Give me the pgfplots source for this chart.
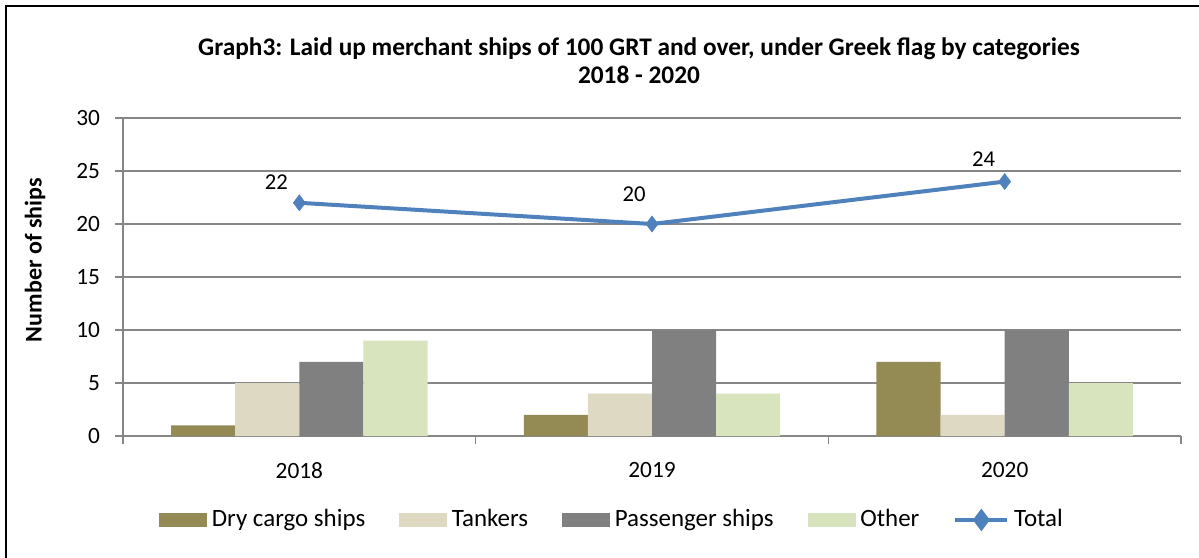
\documentclass[border=0pt]{standalone}
\usepackage{pgfplots}
\pgfplotsset{compat=1.18}
\usepackage{pgfplotstable}
\usepackage{fontspec}
\setmainfont{Carlito}
\definecolor{drycol}{HTML}{948A54}
\definecolor{tankcol}{HTML}{DDD9C3}
\definecolor{passcol}{HTML}{808080}
\definecolor{othcol}{HTML}{D7E4BD}
\definecolor{linecol}{HTML}{4F81BD}
\definecolor{gridcol}{HTML}{868686}

\pgfplotstableread{
x dry tank pass oth
0 1 5 7 9
1 2 4 10 4
2 7 2 10 5
}\bartable

\pgfplotstableread{
x y dx dy
0 22 -17.25 15.4
1 20 -13.5 22.5
2 24 -15.75 16.5
}\totaltable

\begin{document}
\fontsize{17.5}{21}\selectfont
\begin{tikzpicture}
\useasboundingbox (-92.25pt,-90.75pt) rectangle (807pt,327pt);
\draw[line width=1.5pt] (-87.75pt,-95pt) -- (-87.75pt,322.5pt) -- (812pt,322.5pt);
\begin{axis}[
  at={(0pt,0pt)}, anchor=south west,
  scale only axis, width=793.5pt, height=238.5pt,
  font=\fontsize{17.5}{21}\selectfont,
  /pgf/number format/assume math mode=true,
  xmin=-0.5, xmax=2.5, ymin=0, ymax=30,
  ytick={0,5,...,30},
  xtick={0,1,2}, xticklabels={2018,2019,2020},
  minor xtick={-0.5,0.5,1.5,2.5},
  axis x line*=bottom, axis y line*=left,
  axis line style={draw=gridcol, line width=1.2pt, -},
  ymajorgrids, grid style={draw=gridcol, line width=1.2pt},
  major x tick style={draw=none},
  minor x tick style={draw=gridcol, line width=1.2pt},
  y tick style={draw=gridcol, line width=1.2pt},
  tick align=outside, major tick length=6pt, minor tick length=6pt,
  yticklabel style={anchor=east, inner sep=0pt, xshift=-11pt},
  xticklabel style={anchor=north, inner sep=0pt, yshift=-13.5pt},
  ylabel={\bfseries Number of ships},
  ylabel style={at={(axis description cs:0,0.553)}, anchor=center, yshift=66pt,
    font=\fontsize{18}{21}\selectfont},
  legend columns=5,
  legend style={draw=none, fill=none, at={(0.4613,-0.264)}, anchor=center,
    font=\fontsize{18.7}{22}\selectfont,
    nodes={inner sep=0pt},
    /tikz/every odd column/.append style={column sep=3.5pt},
    /tikz/every even column/.append style={column sep=25.5pt}},
  clip=false,
]
\addplot[ybar, bar width=0.1818, bar shift=-0.2727, fill=drycol, draw=none,
  legend image code/.code={\fill[drycol] (0pt,-5.25pt) rectangle (36pt,5.25pt);}]
  table[x=x,y=dry] {\bartable};
\addlegendentry{Dry cargo ships}
\addplot[ybar, bar width=0.1818, bar shift=-0.0909, fill=tankcol, draw=none,
  legend image code/.code={\fill[tankcol] (0pt,-5.25pt) rectangle (36pt,5.25pt);}]
  table[x=x,y=tank] {\bartable};
\addlegendentry{Tankers}
\addplot[ybar, bar width=0.1818, bar shift=0.0909, fill=passcol, draw=none,
  legend image code/.code={\fill[passcol] (0pt,-5.25pt) rectangle (36pt,5.25pt);}]
  table[x=x,y=pass] {\bartable};
\addlegendentry{Passenger ships}
\addplot[ybar, bar width=0.1818, bar shift=0.2727, fill=othcol, draw=none,
  legend image code/.code={\fill[othcol] (0pt,-5.25pt) rectangle (36pt,5.25pt);}]
  table[x=x,y=oth] {\bartable};
\addlegendentry{Other}
\addplot[color=linecol, line width=3pt, mark=diamond*, mark size=6pt,
  mark options={solid, fill=linecol, draw=linecol, line width=0.4pt},
  nodes near coords,
  visualization depends on={\thisrow{dx}\as\dx},
  visualization depends on={\thisrow{dy}\as\dy},
  every node near coord/.append style={anchor=center, inner sep=0pt, text=black,
     xshift=\dx pt, yshift=\dy pt, font=\fontsize{17}{20}\selectfont},
  legend image code/.code={\draw[linecol, line width=3pt] (0pt,0pt) -- (39pt,0pt);
     \fill[linecol] (19.5pt,6pt) -- (24pt,0pt) -- (19.5pt,-6pt) -- (15pt,0pt) -- cycle;}]
  table[x=x,y=y] {\totaltable};
\addlegendentry{Total}
\end{axis}
\node[align=center, font=\fontsize{19}{21}\selectfont\bfseries] at (387pt,281.25pt)
  {Graph3: Laid up merchant ships of 100 GRT and over, under Greek flag by categories\\2018 - 2020};
\end{tikzpicture}
\end{document}
